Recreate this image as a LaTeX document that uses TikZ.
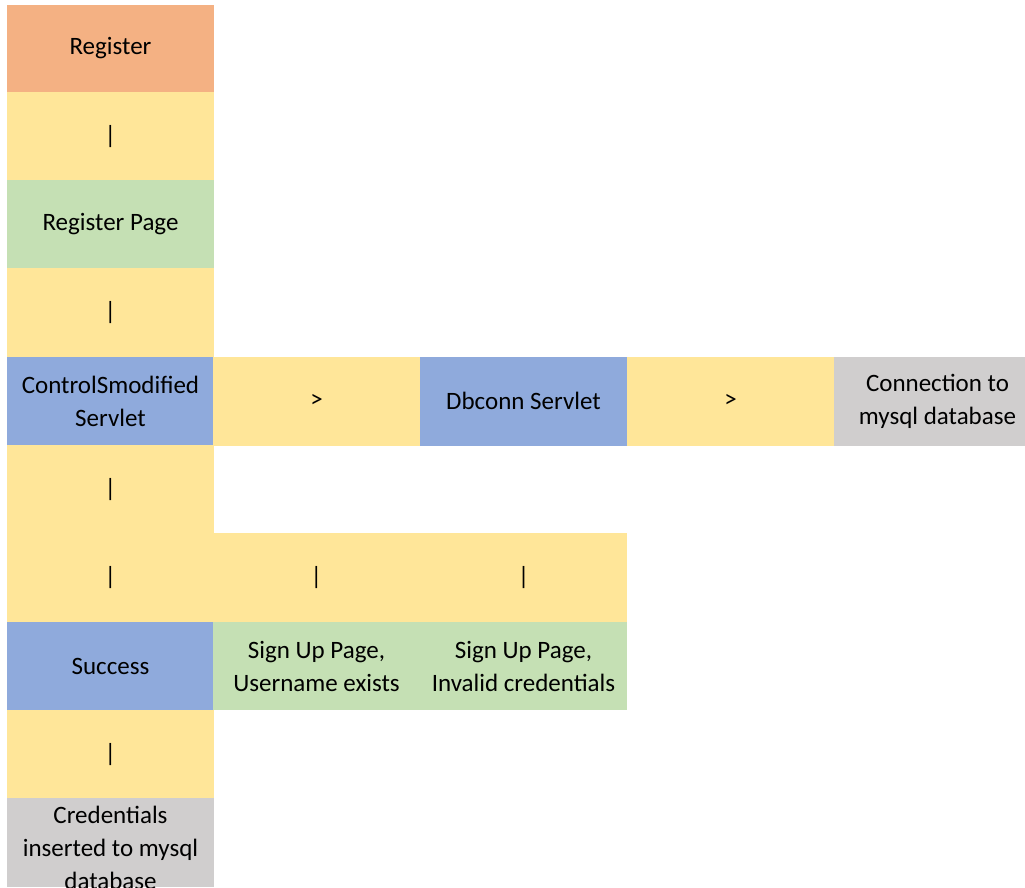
\documentclass[tikz,border=0pt]{standalone}
\usepackage{fontspec}
\setmainfont{Carlito}
\definecolor{corange}{HTML}{F4B183}
\definecolor{cyellow}{HTML}{FFE699}
\definecolor{cgreen}{HTML}{C5E0B4}
\definecolor{cblue}{HTML}{8FAADC}
\definecolor{cgray}{HTML}{D0CECE}
\tikzset{
  cell/.style={rectangle, inner sep=0pt, outer sep=0pt, minimum width=207.5pt, minimum height=88.8pt,
    align=center, font=\fontsize{25}{33}\selectfont, text=black},
  orangecell/.style={cell, fill=corange},
  yellowcell/.style={cell, fill=cyellow},
  greencell/.style={cell, fill=cgreen},
  bluecell/.style={cell, fill=cblue},
  graycell/.style={cell, fill=cgray}
}
\begin{document}
\begin{tikzpicture}[x=1pt,y=-1pt]
\path[use as bounding box] (0,0) rectangle (1025,887);
\clip (0,0) rectangle (1025,887);
% column centres: 110.5, 316.5, 523.5, 730.5, 937.5
\node[orangecell, minimum height=87.5pt] (register) at (110.5,48.5) {Register};
\node[yellowcell] (bar1) at (110.5,136.2) {|};
\node[greencell] (regpage) at (110.5,224.5) {Register Page};
\node[yellowcell] (bar2) at (110.5,312.8) {|};
\node[bluecell] (control) at (110.5,401.1) {ControlSmodified\\Servlet};
\node[yellowcell] (arrow1) at (316.5,401.1) {>};
\node[bluecell] (dbconn) at (523.5,401.1) {Dbconn Servlet};
\node[yellowcell] (arrow2) at (730.5,401.1) {>};
\node[graycell] (connection) at (937.5,401.1) {Connection to\\mysql database};
\node[yellowcell] (bar3) at (110.5,489.4) {|};
\node[yellowcell] (bar4) at (110.5,577.7) {|};
\node[yellowcell] (bar5) at (316.5,577.7) {|};
\node[yellowcell] (bar6) at (523.5,577.7) {|};
\node[bluecell] (success) at (110.5,666.0) {Success};
\node[greencell] (exists) at (316.5,666.0) {Sign Up Page,\\Username exists};
\node[greencell] (invalid) at (523.5,666.0) {Sign Up Page,\\Invalid credentials};
\node[yellowcell] (bar7) at (110.5,754.3) {|};
\node[graycell] (credentials) at (110.5,842.6) {};
\node[align=center, font=\fontsize{25}{33}\selectfont, inner sep=0pt] (credtext) at (110.5,848) {Credentials\\inserted to mysql\\database};
\end{tikzpicture}
\end{document}
